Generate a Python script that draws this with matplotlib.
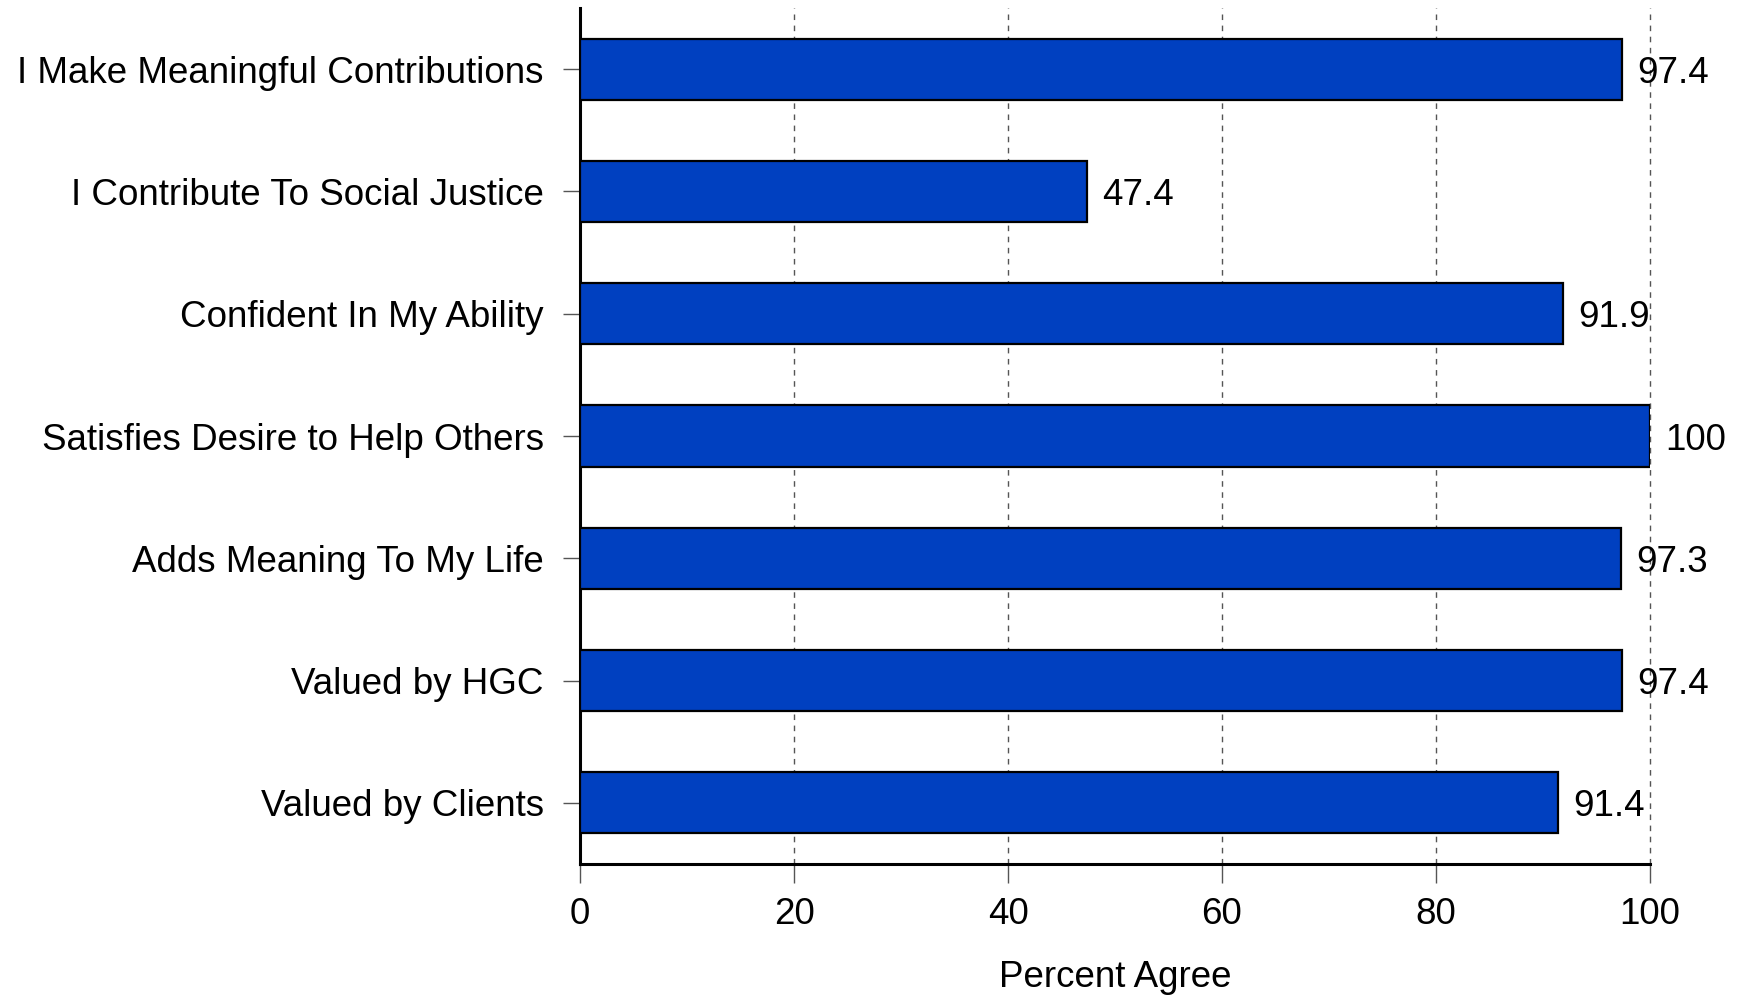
import numpy as np
import matplotlib
matplotlib.use('Agg')
import matplotlib.pyplot as plt

plt.rcParams['font.family'] = ['Liberation Sans', 'DejaVu Sans']

# ── data ──────────────────────────────────────────────────────────────────────
categories = [
    'I Make Meaningful Contributions',
    'I Contribute To Social Justice',
    'Confident In My Ability',
    'Satisfies Desire to Help Others',
    'Adds Meaning To My Life',
    'Valued by HGC',
    'Valued by Clients',
]
values = [97.4, 47.4, 91.9, 100, 97.3, 97.4, 91.4]
value_labels = ['97.4', '47.4', '91.9', '100', '97.3', '97.4', '91.4']
xticks = [0, 20, 40, 60, 80, 100]

BAR_BLUE = '#0040C0'
FS = 26.5

fig = plt.figure(figsize=(17.43, 10), dpi=100)
fig.patch.set_facecolor('white')
ax = fig.add_axes([0.3328, 0.136, 0.6138, 0.856])

y = np.arange(len(categories))
ax.barh(y, values, height=0.5, color=BAR_BLUE, edgecolor='black',
        linewidth=1.6, zorder=3)

for yi, v, lab in zip(y, values, value_labels):
    ax.text(v + 1.4, yi, lab, ha='left', va='center_baseline', fontsize=FS, zorder=4)

ax.set_xlim(0, 100)
ax.set_ylim(6.5, -0.5)
ax.set_yticks(y)
ax.set_yticklabels(categories, fontsize=FS)
ax.set_xticks(xticks)
ax.set_xticklabels([str(t) for t in xticks], fontsize=FS)
ax.set_xlabel('Percent Agree', fontsize=FS, labelpad=20)

for t in xticks[1:]:
    ax.axvline(t, color='#555555', linestyle=(0, (4, 4)), linewidth=1.0,
               zorder=1, clip_on=False)

ax.spines['top'].set_visible(False)
ax.spines['right'].set_visible(False)
ax.spines['left'].set_linewidth(2.2)
ax.spines['bottom'].set_linewidth(2.2)
ax.tick_params(axis='x', length=14, width=1.0, color='#555555', pad=10, direction='out')
ax.tick_params(axis='y', length=12, width=1.0, color='#555555', pad=14, direction='out')

plt.savefig('out.png', dpi=100, facecolor='white')
plt.close()
